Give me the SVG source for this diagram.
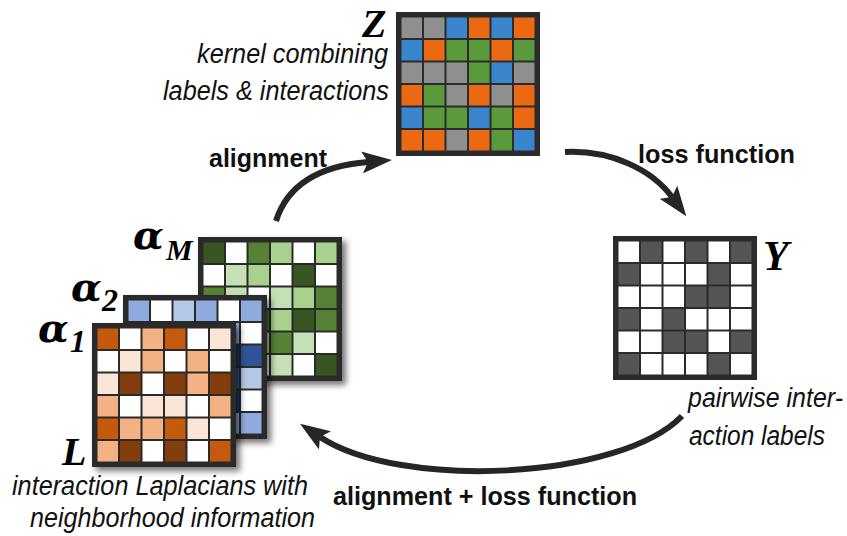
<svg xmlns="http://www.w3.org/2000/svg" width="847" height="536" viewBox="0 0 847 536">
<style>
.frame{fill:#2b2b2b}
.w{fill:#ffffff}
.zg{fill:#8f8f8f}.zb{fill:#3a86cc}.zo{fill:#eb6912}.zn{fill:#5b9a3b}
.yd{fill:#555555}
.gD{fill:#375623}.gM{fill:#548235}.gL{fill:#a9d18e}.gV{fill:#c5e0b4}
.bM{fill:#8faadc}.bL{fill:#b4c7e7}.bD{fill:#2f5597}.bN{fill:#1f3864}
.oO{fill:#c55a11}.oB{fill:#843c0c}.oL{fill:#f4b183}.oV{fill:#fbe5d6}
.lbl{font-family:"Liberation Sans",Arial,sans-serif;fill:#111}
.b{font-weight:bold;font-size:26px}
.it{font-style:italic;font-size:27px}
.math{font-family:"Liberation Serif","Times New Roman",serif;font-weight:bold;font-style:italic;fill:#000}
.alpha{font-family:"DejaVu Serif",serif;font-weight:bold;font-style:italic}
.conn{fill:none;stroke:#262626;stroke-width:6}
</style>
<defs>
<filter id="sh" x="-10%" y="-10%" width="130%" height="130%">
<feDropShadow dx="4" dy="4" stdDeviation="3" flood-color="#000" flood-opacity="0.55"/>
</filter>
<marker id="ah" markerUnits="userSpaceOnUse" markerWidth="30" markerHeight="22" viewBox="0 0 30 22" refX="6" refY="11" orient="auto">
<path d="M0,0 L30,11 L0,22 L6,11 z" fill="#262626"/>
</marker>
</defs>

<g id="connectors">
<path class="conn" d="M276,221 C287,186 318,166 368,162" marker-end="url(#ah)"/>
<path class="conn" d="M565,152 C612,150 652,170 672,197" marker-end="url(#ah)"/>
<path class="conn" d="M682,416 C620,480 400,490 320,437" marker-end="url(#ah)"/>
</g>

<g id="Z" transform="translate(396,12)">
<rect class="frame" width="144" height="144"/>
<rect class="zg" x="5.5" y="5.5" width="20.5" height="20.5"/><rect class="zg" x="28" y="5.5" width="20.5" height="20.5"/><rect class="zb" x="50.5" y="5.5" width="20.5" height="20.5"/><rect class="zo" x="73" y="5.5" width="20.5" height="20.5"/><rect class="zb" x="95.5" y="5.5" width="20.5" height="20.5"/><rect class="zo" x="118" y="5.5" width="20.5" height="20.5"/>
<rect class="zb" x="5.5" y="28" width="20.5" height="20.5"/><rect class="zo" x="28" y="28" width="20.5" height="20.5"/><rect class="zn" x="50.5" y="28" width="20.5" height="20.5"/><rect class="zn" x="73" y="28" width="20.5" height="20.5"/><rect class="zo" x="95.5" y="28" width="20.5" height="20.5"/><rect class="zn" x="118" y="28" width="20.5" height="20.5"/>
<rect class="zg" x="5.5" y="50.5" width="20.5" height="20.5"/><rect class="zg" x="28" y="50.5" width="20.5" height="20.5"/><rect class="zg" x="50.5" y="50.5" width="20.5" height="20.5"/><rect class="zn" x="73" y="50.5" width="20.5" height="20.5"/><rect class="zb" x="95.5" y="50.5" width="20.5" height="20.5"/><rect class="zg" x="118" y="50.5" width="20.5" height="20.5"/>
<rect class="zo" x="5.5" y="73" width="20.5" height="20.5"/><rect class="zn" x="28" y="73" width="20.5" height="20.5"/><rect class="zg" x="50.5" y="73" width="20.5" height="20.5"/><rect class="zo" x="73" y="73" width="20.5" height="20.5"/><rect class="zg" x="95.5" y="73" width="20.5" height="20.5"/><rect class="zo" x="118" y="73" width="20.5" height="20.5"/>
<rect class="zb" x="5.5" y="95.5" width="20.5" height="20.5"/><rect class="zn" x="28" y="95.5" width="20.5" height="20.5"/><rect class="zn" x="50.5" y="95.5" width="20.5" height="20.5"/><rect class="zb" x="73" y="95.5" width="20.5" height="20.5"/><rect class="zn" x="95.5" y="95.5" width="20.5" height="20.5"/><rect class="zo" x="118" y="95.5" width="20.5" height="20.5"/>
<rect class="zo" x="5.5" y="118" width="20.5" height="20.5"/><rect class="zo" x="28" y="118" width="20.5" height="20.5"/><rect class="zg" x="50.5" y="118" width="20.5" height="20.5"/><rect class="zo" x="73" y="118" width="20.5" height="20.5"/><rect class="zn" x="95.5" y="118" width="20.5" height="20.5"/><rect class="zb" x="118" y="118" width="20.5" height="20.5"/>
</g>
<g id="Z-label">
<text class="math" x="362" y="37" font-size="40">Z</text>
<text class="lbl it" x="197" y="63" textLength="191" lengthAdjust="spacingAndGlyphs">kernel combining</text>
<text class="lbl it" x="163" y="100" textLength="226" lengthAdjust="spacingAndGlyphs">labels &amp; interactions</text>
</g>

<g id="Y" transform="translate(613,236)">
<rect class="frame" width="144" height="144"/>
<rect class="w" x="5.5" y="5.5" width="20.5" height="20.5"/><rect class="yd" x="28" y="5.5" width="20.5" height="20.5"/><rect class="w" x="50.5" y="5.5" width="20.5" height="20.5"/><rect class="yd" x="73" y="5.5" width="20.5" height="20.5"/><rect class="w" x="95.5" y="5.5" width="20.5" height="20.5"/><rect class="yd" x="118" y="5.5" width="20.5" height="20.5"/>
<rect class="yd" x="5.5" y="28" width="20.5" height="20.5"/><rect class="w" x="28" y="28" width="20.5" height="20.5"/><rect class="w" x="50.5" y="28" width="20.5" height="20.5"/><rect class="w" x="73" y="28" width="20.5" height="20.5"/><rect class="yd" x="95.5" y="28" width="20.5" height="20.5"/><rect class="w" x="118" y="28" width="20.5" height="20.5"/>
<rect class="w" x="5.5" y="50.5" width="20.5" height="20.5"/><rect class="w" x="28" y="50.5" width="20.5" height="20.5"/><rect class="w" x="50.5" y="50.5" width="20.5" height="20.5"/><rect class="yd" x="73" y="50.5" width="20.5" height="20.5"/><rect class="yd" x="95.5" y="50.5" width="20.5" height="20.5"/><rect class="w" x="118" y="50.5" width="20.5" height="20.5"/>
<rect class="yd" x="5.5" y="73" width="20.5" height="20.5"/><rect class="w" x="28" y="73" width="20.5" height="20.5"/><rect class="yd" x="50.5" y="73" width="20.5" height="20.5"/><rect class="w" x="73" y="73" width="20.5" height="20.5"/><rect class="w" x="95.5" y="73" width="20.5" height="20.5"/><rect class="w" x="118" y="73" width="20.5" height="20.5"/>
<rect class="w" x="5.5" y="95.5" width="20.5" height="20.5"/><rect class="w" x="28" y="95.5" width="20.5" height="20.5"/><rect class="yd" x="50.5" y="95.5" width="20.5" height="20.5"/><rect class="yd" x="73" y="95.5" width="20.5" height="20.5"/><rect class="w" x="95.5" y="95.5" width="20.5" height="20.5"/><rect class="yd" x="118" y="95.5" width="20.5" height="20.5"/>
<rect class="yd" x="5.5" y="118" width="20.5" height="20.5"/><rect class="w" x="28" y="118" width="20.5" height="20.5"/><rect class="w" x="50.5" y="118" width="20.5" height="20.5"/><rect class="w" x="73" y="118" width="20.5" height="20.5"/><rect class="yd" x="95.5" y="118" width="20.5" height="20.5"/><rect class="w" x="118" y="118" width="20.5" height="20.5"/>
</g>
<g id="Y-label">
<text class="math" x="763" y="270" font-size="42">Y</text>
<text class="lbl it" x="688" y="407" textLength="155" lengthAdjust="spacingAndGlyphs">pairwise inter-</text>
<text class="lbl it" x="689" y="445" textLength="136" lengthAdjust="spacingAndGlyphs">action labels</text>
</g>

<g id="alphaM" transform="translate(198,237)" filter="url(#sh)">
<rect class="frame" width="144" height="144"/>
<rect class="gD" x="5.5" y="5.5" width="20.5" height="20.5"/><rect class="w" x="28" y="5.5" width="20.5" height="20.5"/><rect class="gM" x="50.5" y="5.5" width="20.5" height="20.5"/><rect class="gL" x="73" y="5.5" width="20.5" height="20.5"/><rect class="w" x="95.5" y="5.5" width="20.5" height="20.5"/><rect class="gL" x="118" y="5.5" width="20.5" height="20.5"/>
<rect class="w" x="5.5" y="28" width="20.5" height="20.5"/><rect class="gV" x="28" y="28" width="20.5" height="20.5"/><rect class="gL" x="50.5" y="28" width="20.5" height="20.5"/><rect class="w" x="73" y="28" width="20.5" height="20.5"/><rect class="gD" x="95.5" y="28" width="20.5" height="20.5"/><rect class="w" x="118" y="28" width="20.5" height="20.5"/>
<rect class="gM" x="5.5" y="50.5" width="20.5" height="20.5"/><rect class="gV" x="28" y="50.5" width="20.5" height="20.5"/><rect class="w" x="50.5" y="50.5" width="20.5" height="20.5"/><rect class="gV" x="73" y="50.5" width="20.5" height="20.5"/><rect class="gL" x="95.5" y="50.5" width="20.5" height="20.5"/><rect class="gM" x="118" y="50.5" width="20.5" height="20.5"/>
<rect class="gL" x="5.5" y="73" width="20.5" height="20.5"/><rect class="w" x="28" y="73" width="20.5" height="20.5"/><rect class="gM" x="50.5" y="73" width="20.5" height="20.5"/><rect class="gL" x="73" y="73" width="20.5" height="20.5"/><rect class="gD" x="95.5" y="73" width="20.5" height="20.5"/><rect class="gM" x="118" y="73" width="20.5" height="20.5"/>
<rect class="w" x="5.5" y="95.5" width="20.5" height="20.5"/><rect class="gD" x="28" y="95.5" width="20.5" height="20.5"/><rect class="gV" x="50.5" y="95.5" width="20.5" height="20.5"/><rect class="gM" x="73" y="95.5" width="20.5" height="20.5"/><rect class="gV" x="95.5" y="95.5" width="20.5" height="20.5"/><rect class="w" x="118" y="95.5" width="20.5" height="20.5"/>
<rect class="gM" x="5.5" y="118" width="20.5" height="20.5"/><rect class="gL" x="28" y="118" width="20.5" height="20.5"/><rect class="w" x="50.5" y="118" width="20.5" height="20.5"/><rect class="gV" x="73" y="118" width="20.5" height="20.5"/><rect class="w" x="95.5" y="118" width="20.5" height="20.5"/><rect class="gD" x="118" y="118" width="20.5" height="20.5"/>
</g>
<text id="alphaM-label" class="math"><tspan class="alpha" x="133" y="249" font-size="40">α</tspan><tspan x="166" y="260" font-size="30">M</tspan></text>

<g id="alpha2" transform="translate(123,295)" filter="url(#sh)">
<rect class="frame" width="144" height="144"/>
<rect class="bM" x="5.5" y="5.5" width="20.5" height="20.5"/><rect class="w" x="28" y="5.5" width="20.5" height="20.5"/><rect class="bL" x="50.5" y="5.5" width="20.5" height="20.5"/><rect class="bM" x="73" y="5.5" width="20.5" height="20.5"/><rect class="w" x="95.5" y="5.5" width="20.5" height="20.5"/><rect class="bM" x="118" y="5.5" width="20.5" height="20.5"/>
<rect class="bL" x="5.5" y="28" width="20.5" height="20.5"/><rect class="bM" x="28" y="28" width="20.5" height="20.5"/><rect class="w" x="50.5" y="28" width="20.5" height="20.5"/><rect class="bD" x="73" y="28" width="20.5" height="20.5"/><rect class="bM" x="95.5" y="28" width="20.5" height="20.5"/><rect class="w" x="118" y="28" width="20.5" height="20.5"/>
<rect class="w" x="5.5" y="50.5" width="20.5" height="20.5"/><rect class="bL" x="28" y="50.5" width="20.5" height="20.5"/><rect class="bM" x="50.5" y="50.5" width="20.5" height="20.5"/><rect class="w" x="73" y="50.5" width="20.5" height="20.5"/><rect class="bN" x="95.5" y="50.5" width="20.5" height="20.5"/><rect class="bD" x="118" y="50.5" width="20.5" height="20.5"/>
<rect class="bM" x="5.5" y="73" width="20.5" height="20.5"/><rect class="w" x="28" y="73" width="20.5" height="20.5"/><rect class="bL" x="50.5" y="73" width="20.5" height="20.5"/><rect class="bM" x="73" y="73" width="20.5" height="20.5"/><rect class="bD" x="95.5" y="73" width="20.5" height="20.5"/><rect class="bL" x="118" y="73" width="20.5" height="20.5"/>
<rect class="bL" x="5.5" y="95.5" width="20.5" height="20.5"/><rect class="bM" x="28" y="95.5" width="20.5" height="20.5"/><rect class="w" x="50.5" y="95.5" width="20.5" height="20.5"/><rect class="bL" x="73" y="95.5" width="20.5" height="20.5"/><rect class="bN" x="95.5" y="95.5" width="20.5" height="20.5"/><rect class="w" x="118" y="95.5" width="20.5" height="20.5"/>
<rect class="w" x="5.5" y="118" width="20.5" height="20.5"/><rect class="bL" x="28" y="118" width="20.5" height="20.5"/><rect class="bM" x="50.5" y="118" width="20.5" height="20.5"/><rect class="w" x="73" y="118" width="20.5" height="20.5"/><rect class="bM" x="95.5" y="118" width="20.5" height="20.5"/><rect class="bM" x="118" y="118" width="20.5" height="20.5"/>
</g>
<text id="alpha2-label" class="math"><tspan class="alpha" x="71" y="301" font-size="40">α</tspan><tspan x="102" y="311" font-size="32">2</tspan></text>

<g id="alpha1" transform="translate(92,323)" filter="url(#sh)">
<rect class="frame" width="144" height="144"/>
<rect class="oO" x="5.5" y="5.5" width="20.5" height="20.5"/><rect class="w" x="28" y="5.5" width="20.5" height="20.5"/><rect class="oL" x="50.5" y="5.5" width="20.5" height="20.5"/><rect class="oO" x="73" y="5.5" width="20.5" height="20.5"/><rect class="w" x="95.5" y="5.5" width="20.5" height="20.5"/><rect class="oV" x="118" y="5.5" width="20.5" height="20.5"/>
<rect class="w" x="5.5" y="28" width="20.5" height="20.5"/><rect class="oV" x="28" y="28" width="20.5" height="20.5"/><rect class="oL" x="50.5" y="28" width="20.5" height="20.5"/><rect class="w" x="73" y="28" width="20.5" height="20.5"/><rect class="oL" x="95.5" y="28" width="20.5" height="20.5"/><rect class="w" x="118" y="28" width="20.5" height="20.5"/>
<rect class="oV" x="5.5" y="50.5" width="20.5" height="20.5"/><rect class="oB" x="28" y="50.5" width="20.5" height="20.5"/><rect class="w" x="50.5" y="50.5" width="20.5" height="20.5"/><rect class="oB" x="73" y="50.5" width="20.5" height="20.5"/><rect class="oL" x="95.5" y="50.5" width="20.5" height="20.5"/><rect class="oB" x="118" y="50.5" width="20.5" height="20.5"/>
<rect class="oL" x="5.5" y="73" width="20.5" height="20.5"/><rect class="w" x="28" y="73" width="20.5" height="20.5"/><rect class="oV" x="50.5" y="73" width="20.5" height="20.5"/><rect class="oV" x="73" y="73" width="20.5" height="20.5"/><rect class="w" x="95.5" y="73" width="20.5" height="20.5"/><rect class="oL" x="118" y="73" width="20.5" height="20.5"/>
<rect class="oO" x="5.5" y="95.5" width="20.5" height="20.5"/><rect class="oL" x="28" y="95.5" width="20.5" height="20.5"/><rect class="oL" x="50.5" y="95.5" width="20.5" height="20.5"/><rect class="oO" x="73" y="95.5" width="20.5" height="20.5"/><rect class="oV" x="95.5" y="95.5" width="20.5" height="20.5"/><rect class="w" x="118" y="95.5" width="20.5" height="20.5"/>
<rect class="oL" x="5.5" y="118" width="20.5" height="20.5"/><rect class="oB" x="28" y="118" width="20.5" height="20.5"/><rect class="w" x="50.5" y="118" width="20.5" height="20.5"/><rect class="oB" x="73" y="118" width="20.5" height="20.5"/><rect class="w" x="95.5" y="118" width="20.5" height="20.5"/><rect class="oO" x="118" y="118" width="20.5" height="20.5"/>
</g>
<text id="alpha1-label" class="math"><tspan class="alpha" x="38" y="342" font-size="40">α</tspan><tspan x="70" y="352" font-size="32">1</tspan></text>

<g id="L-label">
<text class="math" x="62" y="465" font-size="40">L</text>
<text class="lbl it" x="12" y="495" textLength="296" lengthAdjust="spacingAndGlyphs">interaction Laplacians with</text>
<text class="lbl it" x="30" y="527" textLength="285" lengthAdjust="spacingAndGlyphs">neighborhood information</text>
</g>

<g id="edge-labels">
<text class="lbl b" x="209" y="167" textLength="118" lengthAdjust="spacingAndGlyphs">alignment</text>
<text class="lbl b" x="638" y="163" textLength="157" lengthAdjust="spacingAndGlyphs">loss function</text>
<text class="lbl b" x="333" y="505" font-size="27" textLength="304" lengthAdjust="spacingAndGlyphs">alignment + loss function</text>
</g>
</svg>
